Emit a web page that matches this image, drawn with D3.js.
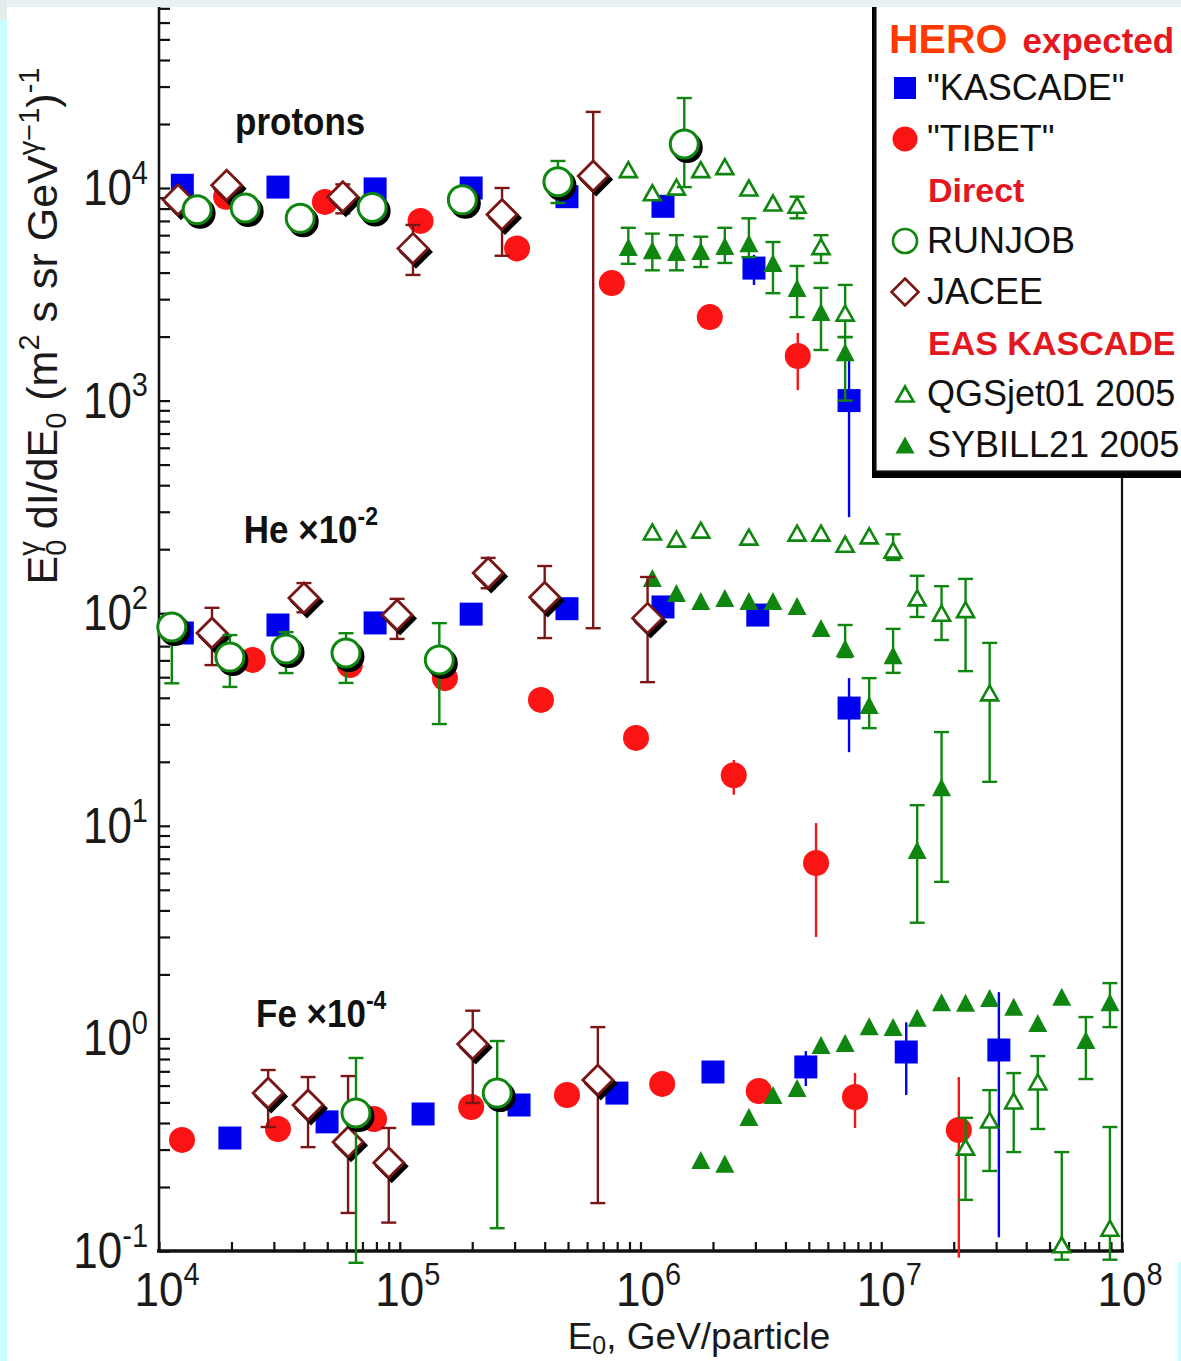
<!DOCTYPE html>
<html>
<head>
<meta charset="utf-8">
<script src="https://cdn.jsdelivr.net/npm/d3@7"></script>
<style>
  body { margin: 0; background: #fff; }
  svg { display: block; font-family: "Liberation Sans", Arial, sans-serif; }
</style>
</head>
<body>
<svg id="chart" width="1181" height="1361"></svg>
<script>
// rows: [E0 in GeV, plotted flux, error low, error high] (null = no bar)
// protons
const kascadeP = [
  [1.25e4, 1.03e4], [3.12e4, 1.01e4], [7.9e4, 9.9e3], [1.98e5, 1.0e4],
  [4.95e5, 9.1e3], [1.24e6, 8.2e3], [2.96e6, 4.2e3, 3.5e3, 4.85e3], [7.35e6, 1.0e3, 283, 1.55e3]
];
const tibetP = [
  [1.9e4, 9.1e3], [4.89e4, 8.6e3], [1.22e5, 7.0e3], [3.07e5, 5.2e3],
  [7.6e5, 3.57e3], [1.94e6, 2.47e3], [4.5e6, 1.62e3, 1.12e3, 2.08e3]
];
const runjobP = [
  [1.44e4, 7.9e3], [2.28e4, 8.05e3], [3.86e4, 7.2e3], [7.68e4, 8.1e3],
  [1.82e5, 8.8e3], [4.54e5, 1.07e4, 8.5e3, 1.34e4], [1.52e6, 1.61e4, 1.01e4, 2.65e4]
];
const jaceeP = [
  [1.2e4, 8.8e3], [1.91e4, 1.03e4], [5.8e4, 9.1e3, 7.6e3, 1.04e4],
  [1.135e5, 5.2e3, 3.9e3, 6.7e3], [2.66e5, 7.5e3, 4.8e3, 1.0e4], [6.36e5, 1.14e4, 85, 2.28e4]
];
const qgsjetP = [
  [8.9e5, 1.22e4], [1.12e6, 9.5e3], [1.41e6, 1.01e4], [1.78e6, 1.22e4], [2.24e6, 1.26e4],
  [2.82e6, 1.0e4], [3.55e6, 8.5e3], [4.47e6, 8.3e3, 7.2e3, 9.1e3],
  [5.62e6, 5.3e3, 4.44e3, 6.0e3], [7.08e6, 2.58e3, 1.99e3, 3.5e3]
];
const sybillP = [
  [8.9e5, 5.28e3, 4.4e3, 6.5e3], [1.12e6, 5.1e3, 4.1e3, 6.1e3], [1.41e6, 5.0e3, 4.1e3, 6.0e3],
  [1.78e6, 5.05e3, 4.25e3, 5.9e3], [2.24e6, 5.33e3, 4.44e3, 6.5e3], [2.82e6, 5.5e3, 4.73e3, 7.2e3],
  [3.55e6, 4.44e3, 3.2e3, 5.57e3], [4.47e6, 3.39e3, 2.47e3, 4.3e3],
  [5.62e6, 2.61e3, 1.73e3, 3.39e3], [7.08e6, 1.69e3, 1.0e3, 1.99e3]
];
// helium x 1e-2
const kascadeHe = [
  [1.25e4, 80.7], [3.12e4, 88], [7.9e4, 90], [1.98e5, 99],
  [4.95e5, 105], [1.24e6, 107], [3.07e6, 98], [7.35e6, 35.8, 22.2, 49.5]
];
const tibetHe = [
  [2.45e4, 60.3], [6.2e4, 57], [1.54e5, 49.5], [3.86e5, 39.1],
  [9.58e5, 25.9], [2.44e6, 17.3, 14.0, 20.4], [5.36e6, 6.68, 3.0, 10.3]
];
const runjobHe = [
  [1.13e4, 86.1, 46.8, 96.8], [1.97e4, 62.2, 45, 78.9], [3.37e4, 67.9, 52.3, 81.5],
  [5.98e4, 65.0, 47, 80.5], [1.46e5, 60.3, 30.1, 89.8]
];
const jaceeHe = [
  [1.66e4, 80.7, 57, 106], [4.0e4, 118, 101, 138.6], [9.75e4, 98, 75.7, 116.8],
  [2.33e5, 154.5, 131, 182], [4.0e5, 119, 76.4, 166.7], [1.07e6, 94.8, 47.4, 148]
];
const qgsjetHe = [
  [1.12e6, 241], [1.41e6, 223], [1.78e6, 246], [2.82e6, 228], [4.47e6, 238],
  [5.62e6, 238], [7.08e6, 211], [8.91e6, 231], [1.12e7, 198, 178, 235],
  [1.41e7, 118, 96, 150], [1.78e7, 100, 74.8, 134], [2.24e7, 104, 53.4, 145], [2.82e7, 42.2, 16.1, 72.5]
];
const sybillHe = [
  [1.12e6, 146.6], [1.41e6, 124.5], [1.78e6, 114], [2.24e6, 117.8], [2.82e6, 114],
  [3.55e6, 114], [4.47e6, 108], [5.62e6, 85.1], [7.08e6, 68.5, 62.2, 88],
  [8.91e6, 37, 28.8, 49.5], [1.12e7, 63.5, 52.4, 84.4], [1.41e7, 7.7, 3.5, 12.5], [1.78e7, 15.2, 5.45, 27.6]
];
// iron x 1e-4
const kascadeFe = [
  [1.97e4, 0.340], [4.99e4, 0.405], [1.25e5, 0.441], [3.13e5, 0.486], [7.98e5, 0.553],
  [2.0e6, 0.695], [4.86e6, 0.734, 0.597, 0.871], [1.27e7, 0.863, 0.542, 1.19], [3.08e7, 0.882, 0.116, 1.65]
];
const tibetFe = [
  [1.246e4, 0.333], [3.12e4, 0.375], [7.82e4, 0.418], [1.98e5, 0.476], [4.95e5, 0.542],
  [1.23e6, 0.611], [3.1e6, 0.566], [7.78e6, 0.530, 0.379, 0.687], [2.1e7, 0.371, 0.093, 0.658]
];
const runjobFe = [
  [6.58e4, 0.446, 0.088, 0.809], [2.54e5, 0.553, 0.128, 0.972]
];
const jaceeFe = [
  [2.84e4, 0.553, 0.383, 0.71], [4.16e4, 0.486, 0.308, 0.658], [6.1e4, 0.326, 0.151, 0.665],
  [9.0e4, 0.26, 0.136, 0.379], [2.01e5, 0.942, 0.497, 1.35], [6.65e5, 0.637, 0.168, 1.13]
];
const qgsjetFe = [
  [2.24e7, 0.308, 0.174, 0.423], [2.82e7, 0.413, 0.238, 0.571], [3.55e7, 0.508, 0.292, 0.687],
  [4.47e7, 0.624, 0.375, 0.826], [5.62e7, 0.107, 0.091, 0.292], [8.91e7, 0.128, 0.091, 0.383]
];
const sybillFe = [
  [1.78e6, 0.268], [2.24e6, 0.257], [2.82e6, 0.427], [3.55e6, 0.542], [4.47e6, 0.585],
  [5.62e6, 0.931], [7.08e6, 0.951], [8.91e6, 1.14], [1.12e7, 1.13], [1.41e7, 1.25],
  [1.78e7, 1.48], [2.24e7, 1.47], [2.82e7, 1.55], [3.55e7, 1.41], [4.47e7, 1.18],
  [5.62e7, 1.57], [7.08e7, 0.984, 0.644, 1.26], [8.91e7, 1.48, 1.13, 1.82]
];

const xDecades = [1e4, 1e5, 1e6, 1e7, 1e8];
const yDecades = [0.1, 1, 10, 100, 1000, 10000];
const groupLabels = [
  { text: 'protons', exp: null, at: [2.07e4, 1.77e4] },
  { text: 'He \u00d710', exp: '-2', at: [2.25e4, 214] },
  { text: 'Fe \u00d710', exp: '-4', at: [2.53e4, 1.13] }
];

const C = {
  blue: '#0000f0', red: '#fa1414', green: '#0f860f', brown: '#7a1616',
  hero: '#ff3a00', head: '#e4161e'
};

const svg = d3.select('#chart');
const x = d3.scaleLog().domain([1e4, 1e8]).range([159, 1122]);
const y = d3.scaleLog().domain([0.1, 1e5]).range([1251, 1251 - 6 * 212.6]);

// ---------- axes ----------
const logTicks = (lo, hi) => {
  const out = [];
  for (let e = lo; e < hi; e++) for (let d = 1; d < 10; d++) out.push(d * Math.pow(10, e));
  out.push(Math.pow(10, hi));
  return out;
};

svg.append('g')
  .attr('transform', 'translate(159,0)')
  .call(d3.axisLeft(y).tickValues(logTicks(-1, 5)).tickSize(-11).tickFormat(''))
  .call(g => g.select('.domain').remove())
  .call(g => g.selectAll('line').attr('stroke', '#111').attr('stroke-width', 2.2));

svg.append('g')
  .attr('transform', 'translate(0,1251)')
  .call(d3.axisBottom(x).tickValues(logTicks(4, 8)).tickSize(-9).tickFormat(''))
  .call(g => g.select('.domain').remove())
  .call(g => g.selectAll('line').attr('stroke', '#111').attr('stroke-width', 2.2));

svg.append('line').attr('x1', 159).attr('x2', 159).attr('y1', -30).attr('y2', 1252)
  .attr('stroke', '#111').attr('stroke-width', 2.6);
svg.append('line').attr('x1', 157).attr('x2', 1124).attr('y1', 1251).attr('y2', 1251)
  .attr('stroke', '#111').attr('stroke-width', 3.4);
svg.append('line').attr('x1', 1122).attr('x2', 1122).attr('y1', 470).attr('y2', 1252)
  .attr('stroke', '#111').attr('stroke-width', 2.2);

// tick labels
const tickFs = 44;
svg.append('g').selectAll('text').data(yDecades).join('text')
  .attr('transform', d => `translate(148,${y(d) + 17}) scale(1,1.12)`)
  .attr('text-anchor', 'end')
  .attr('font-size', tickFs)
  .attr('fill', '#1a1a1a')
  .each(function (d) {
    const t = d3.select(this);
    t.append('tspan').text('10');
    t.append('tspan').attr('dy', -19).attr('font-size', 29).text(Math.round(Math.log10(d)));
  });

svg.append('g').selectAll('text').data(xDecades).join('text')
  .attr('transform', d => `translate(${x(d) - 0.556 * tickFs},1306) scale(1,1.1)`)
  .attr('font-size', tickFs)
  .attr('fill', '#1a1a1a')
  .each(function (d) {
    const t = d3.select(this);
    t.append('tspan').text('10');
    t.append('tspan').attr('dy', -19).attr('font-size', 29).text(Math.round(Math.log10(d)));
  });

// axis titles
const xt = svg.append('text').attr('x', 699).attr('y', 1349).attr('text-anchor', 'middle')
  .attr('font-size', 37).attr('fill', '#1a1a1a');
xt.append('tspan').text('E');
xt.append('tspan').attr('font-size', 25).attr('dy', 5).text('0');
xt.append('tspan').attr('dy', -5).text(', GeV/particle');

const yt = svg.append('text').attr('transform', 'translate(57,326) rotate(-90)')
  .attr('text-anchor', 'middle').attr('font-size', 43).attr('fill', '#1a1a1a');
yt.append('tspan').text('E');
yt.append('tspan').attr('font-size', 29).attr('dy', 9).text('0');
yt.append('tspan').attr('font-size', 29).attr('dy', -27).attr('dx', -16).text('\u03b3');
yt.append('tspan').attr('dy', 18).text(' dI/dE');
yt.append('tspan').attr('font-size', 29).attr('dy', 9).text('0');
yt.append('tspan').attr('dy', -9).text(' (m');
yt.append('tspan').attr('font-size', 29).attr('dy', -18).text('2');
yt.append('tspan').attr('dy', 18).text(' s sr GeV');
yt.append('tspan').attr('font-size', 29).attr('dy', -18).text('\u03b3\u22121');
yt.append('tspan').attr('dy', 18).text(')');
yt.append('tspan').attr('font-size', 29).attr('dy', -18).text('-1');

// group labels inside the plot
groupLabels.forEach(l => {
  const t = svg.append('text')
    .attr('transform', `translate(${x(l.at[0])},${y(l.at[1])}) scale(1,1.12)`)
    .attr('font-size', 35).attr('font-weight', 'bold').attr('fill', '#111');
  t.append('tspan').text(l.text);
  if (l.exp) t.append('tspan').attr('font-size', 23).attr('dy', -16).text(l.exp);
});

// ---------- markers ----------
const tri = (w, h) => `M0,${-h / 2}L${w / 2},${h / 2}L${-w / 2},${h / 2}Z`;
const dia = r => `M0,${-r}L${r},0L0,${r}L${-r},0Z`;

const styles = {
  kascade: { color: C.blue, caps: false, draw: (g, s = 23) => g.append('rect')
      .attr('x', -s / 2).attr('y', -s / 2).attr('width', s).attr('height', s).attr('fill', C.blue) },
  tibet: { color: C.red, caps: false, draw: (g, r = 13) => g.append('circle').attr('r', r).attr('fill', C.red) },
  qgsjet: { color: C.green, caps: true, draw: (g, w = 17, h = 15) => g.append('path').attr('d', tri(w, h))
      .attr('fill', '#fff').attr('stroke', C.green).attr('stroke-width', 2.6).attr('stroke-linejoin', 'miter') },
  sybill: { color: C.green, caps: true, draw: (g, w = 19, h = 18) => g.append('path').attr('d', tri(w, h))
      .attr('fill', C.green) },
  jacee: { color: C.brown, caps: true, shadow: true, draw: (g, r = 15, sh) => g.append('path').attr('d', dia(r))
      .attr('fill', sh ? '#000' : '#fff').attr('stroke', sh ? '#000' : C.brown).attr('stroke-width', 2.8) },
  runjob: { color: C.green, caps: true, shadow: true, draw: (g, r = 14, sh) => g.append('circle').attr('r', r)
      .attr('fill', sh ? '#000' : '#fff').attr('stroke', sh ? '#000' : C.green).attr('stroke-width', 3) }
};

const layers = [
  ['kascade', [...kascadeP, ...kascadeHe, ...kascadeFe]],
  ['tibet', [...tibetP, ...tibetHe, ...tibetFe]],
  ['qgsjet', [...qgsjetP, ...qgsjetHe, ...qgsjetFe]],
  ['sybill', [...sybillP, ...sybillHe, ...sybillFe]],
  ['jacee', [...jaceeP, ...jaceeHe, ...jaceeFe]],
  ['runjob', [...runjobP, ...runjobHe, ...runjobFe]]
];

const plot = svg.append('g');
layers.forEach(([key, rows]) => {
  const st = styles[key];
  const layer = plot.append('g').attr('class', key);
  const withErr = rows.filter(r => r[2] != null);
  // error bars
  layer.selectAll('line.err').data(withErr).join('line').attr('class', 'err')
    .attr('x1', d => x(d[0])).attr('x2', d => x(d[0]))
    .attr('y1', d => y(d[2])).attr('y2', d => y(d[3]))
    .attr('stroke', st.color).attr('stroke-width', 2.4);
  if (st.caps) {
    const caps = withErr.flatMap(d => [[d[0], d[2]], [d[0], d[3]]]);
    layer.selectAll('line.cap').data(caps).join('line').attr('class', 'cap')
      .attr('x1', d => x(d[0]) - 7.5).attr('x2', d => x(d[0]) + 7.5)
      .attr('y1', d => y(d[1])).attr('y2', d => y(d[1]))
      .attr('stroke', st.color).attr('stroke-width', 2.4);
  }
  const pts = layer.selectAll('g.pt').data(rows).join('g').attr('class', 'pt')
    .attr('transform', d => `translate(${x(d[0])},${y(d[1])})`);
  pts.each(function () {
    const g = d3.select(this);
    if (st.shadow) st.draw(g.append('g').attr('transform', 'translate(3,3.5)'), undefined, true);
    st.draw(g);
  });
});

// ---------- legend ----------
const lg = svg.append('g');
lg.append('rect').attr('x', 872).attr('y', -20).attr('width', 340).attr('height', 498).attr('fill', '#000');
lg.append('rect').attr('x', 875.5).attr('y', -20).attr('width', 340).attr('height', 491.5)
  .attr('fill', '#fff').attr('stroke', '#111').attr('stroke-width', 2.2);

const hero = lg.append('text').attr('x', 889).attr('y', 53).attr('font-weight', 'bold');
hero.append('tspan').attr('font-size', 41).attr('fill', C.hero).text('HERO');
hero.append('tspan').attr('font-size', 35).attr('fill', C.head).attr('dx', 15).text('expected');

const legendRows = [
  ['kascade', '"KASCADE"'], ['tibet', '"TIBET"'], [null, 'Direct'],
  ['runjob', 'RUNJOB'], ['jacee', 'JACEE'], [null, 'EAS KASCADE'],
  ['qgsjet', 'QGSjet01 2005'], ['sybill', 'SYBILL21 2005']
];
legendRows.forEach(([key, label], i) => {
  const base = 100 + i * 51;
  if (key) {
    const g = lg.append('g').attr('transform', `translate(905,${base - 12})`);
    if (key === 'kascade') styles.kascade.draw(g, 22);
    else if (key === 'tibet') styles.tibet.draw(g, 12.5);
    else if (key === 'runjob') styles.runjob.draw(g, 12, false).attr('stroke-width', 2.6);
    else if (key === 'jacee') styles.jacee.draw(g, 13.5, false).attr('stroke-width', 2.6);
    else if (key === 'qgsjet') styles.qgsjet.draw(g, 17, 15);
    else styles.sybill.draw(g, 19, 17);
    lg.append('text').attr('x', 927).attr('y', base).attr('font-size', 36).attr('fill', '#111').text(label);
  } else {
    lg.append('text').attr('x', 928).attr('y', base).attr('font-size', 34).attr('font-weight', 'bold')
      .attr('fill', C.head).text(label);
  }
});

// page leftovers from the slide, drawn over the cut-off top of the figure
svg.append('rect').attr('x', 0).attr('y', 0).attr('width', 1181).attr('height', 7).attr('fill', '#e9f2f2');
svg.append('rect').attr('x', 0).attr('y', 0).attr('width', 7).attr('height', 1361).attr('fill', '#c8ffff');
svg.append('rect').attr('x', 0).attr('y', 0).attr('width', 7).attr('height', 20).attr('fill', '#e3ecec');
svg.append('rect').attr('x', 1178).attr('y', 1262).attr('width', 3).attr('height', 99).attr('fill', '#c8ffff');
</script>
</body>
</html>
